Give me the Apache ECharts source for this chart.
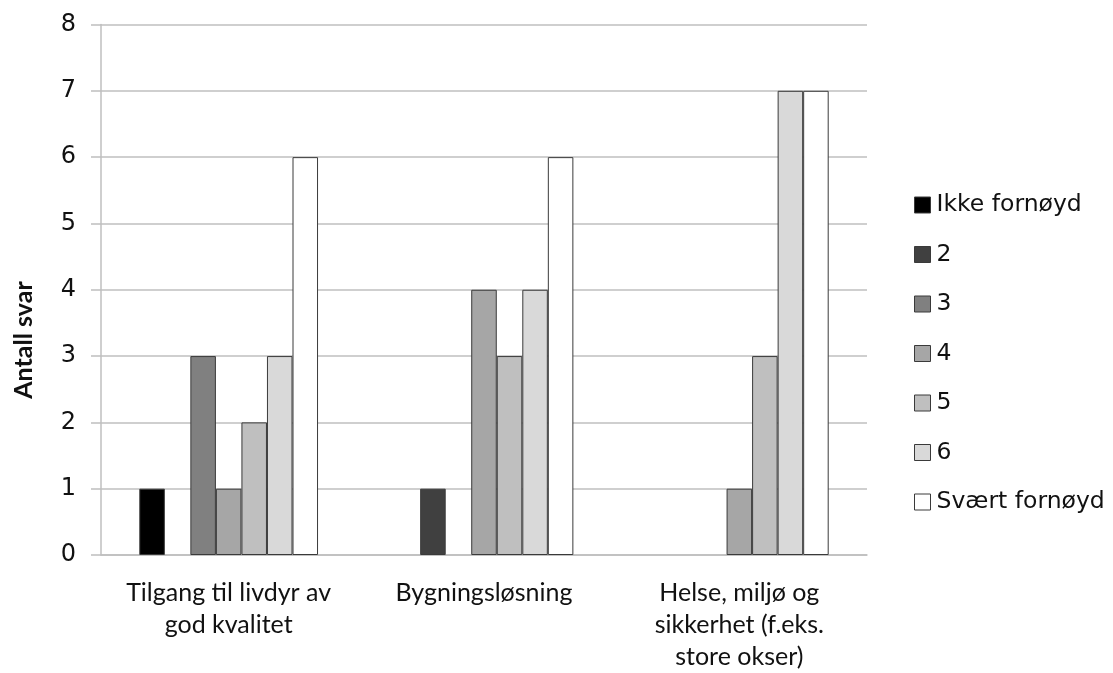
<!DOCTYPE html>
<html>
<head>
<meta charset="utf-8">
<script src="https://cdn.jsdelivr.net/npm/echarts@6/dist/echarts.min.js"></script>
<style>
  html, body { margin: 0; padding: 0; background: #ffffff; }
  #chart { width: 1113px; height: 673px; }
</style>
</head>
<body>
<div id="chart"></div>
<script>
// Survey categories (x axis)
const categories = [
  'Tilgang til livdyr av\ngod kvalitet',
  'Bygningsløsning',
  'Helse, miljø og\nsikkerhet (f.eks.\nstore okser)'
];

// Satisfaction scale (one series per level)
const seriesNames = ['Ikke fornøyd', '2', '3', '4', '5', '6', 'Svært fornøyd'];
const seriesColors = ['#000000', '#404040', '#808080', '#a6a6a6', '#bfbfbf', '#d9d9d9', '#ffffff'];

// Number of answers per level, in category order
const ikkeFornoyd  = [1, 0, 0];
const level2       = [0, 1, 0];
const level3       = [3, 0, 0];
const level4       = [1, 4, 1];
const level5       = [2, 3, 3];
const level6       = [3, 4, 7];
const svaertFornoyd = [6, 6, 7];

const yTicks = [0, 1, 2, 3, 4, 5, 6, 7, 8];

const values = [ikkeFornoyd, level2, level3, level4, level5, level6, svaertFornoyd];

const chart = echarts.init(document.getElementById('chart'), null, { renderer: 'canvas' });

const series = seriesNames.map((name, i) => ({
  name,
  type: 'bar',
  barGap: '0%',
  barCategoryGap: '30%',
  // empty answers are left out so no outline is drawn on the baseline
  data: values[i].map(v => (v === 0 ? null : v)),
  itemStyle: {
    color: seriesColors[i],
    borderColor: '#3a3a3a',
    borderWidth: 1
  }
}));

chart.setOption({
  animation: false,
  backgroundColor: '#ffffff',
  grid: { left: 101, right: 246, top: 24.5, bottom: 117, containLabel: false },
  legend: {
    orient: 'vertical',
    left: 909,
    top: 188,
    itemWidth: 16,
    itemHeight: 16,
    itemGap: 25.5,
    icon: 'rect',
    data: seriesNames,
    itemStyle: { borderColor: '#3a3a3a', borderWidth: 1 },
    textStyle: {
      fontFamily: 'DejaVu Sans',
      fontSize: 23.5,
      lineHeight: 23,
      color: '#111111',
      padding: [0, 0, 0, 1]
    }
  },
  xAxis: {
    type: 'category',
    data: categories,
    axisLine: { show: true, lineStyle: { color: '#bfbfbf', width: 1.5 } },
    axisTick: { show: false },
    axisLabel: {
      interval: 0,
      margin: 22,
      fontFamily: 'Lato',
      fontSize: 25,
      lineHeight: 32,
      color: '#111111'
    }
  },
  yAxis: {
    type: 'value',
    min: yTicks[0],
    max: yTicks[yTicks.length - 1],
    interval: 1,
    axisLine: { show: true, lineStyle: { color: '#bfbfbf', width: 1.5 } },
    axisTick: { show: true, inside: false, length: 10, lineStyle: { color: '#bfbfbf', width: 1.5 } },
    splitLine: { show: true, lineStyle: { color: '#bfbfbf', width: 1.5 } },
    axisLabel: {
      margin: 25,
      fontFamily: 'DejaVu Sans',
      fontSize: 24,
      color: '#111111'
    }
  },
  graphic: [{
    type: 'text',
    x: 24,
    y: 340,
    rotation: Math.PI / 2,
    style: {
      text: 'Antall svar',
      fontFamily: 'Lato',
      fontWeight: 'bold',
      fontSize: 25,
      fill: '#111111',
      align: 'center',
      verticalAlign: 'middle'
    }
  }],
  series
});
</script>
</body>
</html>
